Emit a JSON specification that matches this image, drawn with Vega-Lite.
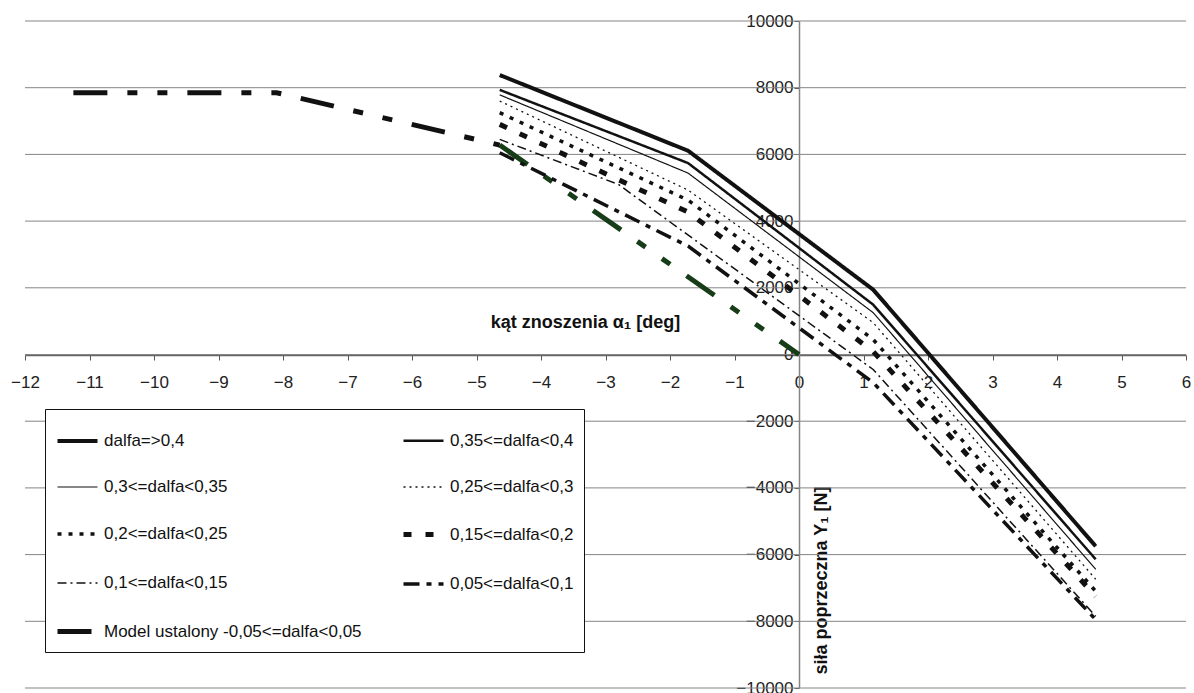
{
  "$schema": "https://vega.github.io/schema/vega-lite/v6.json",
  "width": 1161,
  "height": 667,
  "autosize": {"type": "none"},
  "padding": {"left": 25, "top": 21, "right": 8, "bottom": 5},
  "background": "white",
  "config": {
    "view": {"stroke": null},
    "font": "Liberation Sans",
    "axis": {"labelFont": "Liberation Sans", "titleFont": "Liberation Sans", "labelColor": "#222", "titleColor": "#111"}
  },
  "datasets": {
    "grid": [
      {"g": -10000}, {"g": -8000}, {"g": -6000}, {"g": -4000}, {"g": -2000},
      {"g": 0}, {"g": 2000}, {"g": 4000}, {"g": 6000}, {"g": 8000}, {"g": 10000}
    ],
    "series": [
      {"s": "dalfa=>0,4", "x": -4.64, "y": 8380},
      {"s": "dalfa=>0,4", "x": -1.72, "y": 6110},
      {"s": "dalfa=>0,4", "x": 1.15, "y": 1945},
      {"s": "dalfa=>0,4", "x": 4.6, "y": -5750},
      {"s": "0,35<=dalfa<0,4", "x": -4.64, "y": 7935},
      {"s": "0,35<=dalfa<0,4", "x": -1.72, "y": 5740},
      {"s": "0,35<=dalfa<0,4", "x": 1.15, "y": 1495},
      {"s": "0,35<=dalfa<0,4", "x": 4.6, "y": -6140},
      {"s": "0,3<=dalfa<0,35", "x": -4.64, "y": 7785},
      {"s": "0,3<=dalfa<0,35", "x": -1.72, "y": 5440},
      {"s": "0,3<=dalfa<0,35", "x": 1.15, "y": 1255},
      {"s": "0,3<=dalfa<0,35", "x": 4.6, "y": -6440},
      {"s": "0,25<=dalfa<0,3", "x": -4.64, "y": 7600},
      {"s": "0,25<=dalfa<0,3", "x": -1.72, "y": 4930},
      {"s": "0,25<=dalfa<0,3", "x": 1.15, "y": 955},
      {"s": "0,25<=dalfa<0,3", "x": 4.6, "y": -6740},
      {"s": "0,2<=dalfa<0,25", "x": -4.64, "y": 7250},
      {"s": "0,2<=dalfa<0,25", "x": -1.72, "y": 4630},
      {"s": "0,2<=dalfa<0,25", "x": 1.15, "y": 450},
      {"s": "0,2<=dalfa<0,25", "x": 4.6, "y": -7100},
      {"s": "0,15<=dalfa<0,2", "x": -4.64, "y": 6900},
      {"s": "0,15<=dalfa<0,2", "x": -1.72, "y": 4270},
      {"s": "0,15<=dalfa<0,2", "x": 1.15, "y": 90},
      {"s": "0,15<=dalfa<0,2", "x": 4.6, "y": -7250},
      {"s": "0,1<=dalfa<0,15", "x": -4.64, "y": 6450},
      {"s": "0,1<=dalfa<0,15", "x": -2.8, "y": 5100},
      {"s": "0,1<=dalfa<0,15", "x": 1.15, "y": -450},
      {"s": "0,1<=dalfa<0,15", "x": 4.6, "y": -7850},
      {"s": "0,05<=dalfa<0,1", "x": -4.64, "y": 6050},
      {"s": "0,05<=dalfa<0,1", "x": -1.72, "y": 3250},
      {"s": "0,05<=dalfa<0,1", "x": 1.15, "y": -840},
      {"s": "0,05<=dalfa<0,1", "x": 4.6, "y": -7950},
      {"s": "Model ustalony -0,05<=dalfa<0,05", "x": -11.25, "y": 7850},
      {"s": "Model ustalony -0,05<=dalfa<0,05", "x": -8.1, "y": 7850},
      {"s": "Model ustalony -0,05<=dalfa<0,05", "x": -4.64, "y": 6280}
    ],
    "green": [
      {"x": -4.64, "y": 6280},
      {"x": 0, "y": 0}
    ]
  },
  "layer": [
    {
      "data": {"name": "grid"},
      "mark": {"type": "rule", "color": "#858585", "strokeWidth": 1},
      "encoding": {
        "y": {"field": "g", "type": "quantitative", "scale": {"domain": [-10000, 10000], "nice": false, "zero": false},
          "axis": {
            "orient": "left", "offset": -774, "values": [-10000, -8000, -6000, -4000, -2000, 0, 2000, 4000, 6000, 8000, 10000],
            "grid": false, "domainColor": "#858585", "domainWidth": 1.5, "tickColor": "#555", "tickSize": 5,
            "labelFontSize": 17, "labelPadding": 1, "format": "d",
            "title": "siła poprzeczna Y₁ [N]", "titleFontSize": 18, "titleFontWeight": "bold",
            "titleAngle": -90, "titleX": 22, "titleY": 559, "titleAlign": "center", "titleBaseline": "middle"
          }
        }
      }
    },
    {
      "data": {"name": "green"},
      "mark": {"type": "line", "color": "#163d18", "strokeWidth": 5, "strokeDash": [34, 20, 10, 20, 10, 20], "strokeCap": "butt"},
      "encoding": {
        "x": {"field": "x", "type": "quantitative"},
        "y": {"field": "y", "type": "quantitative"}
      }
    },
    {
      "data": {"name": "series"},
      "mark": {"type": "line", "color": "#111", "strokeCap": "butt", "strokeJoin": "miter"},
      "encoding": {
        "x": {"field": "x", "type": "quantitative", "scale": {"domain": [-12, 6], "nice": false, "zero": false},
          "axis": {
            "orient": "bottom", "offset": -333, "values": [-12, -11, -10, -9, -8, -7, -6, -5, -4, -3, -2, -1, 0, 1, 2, 3, 4, 5, 6],
            "grid": false, "domainColor": "#666", "domainWidth": 1.5, "tickColor": "#555", "tickSize": 5,
            "labelFontSize": 17, "labelPadding": 14, "labelFlush": false, "format": "d",
            "title": "kąt znoszenia α₁ [deg]", "titleFontSize": 18, "titleFontWeight": "bold",
            "titleX": 560, "titleY": -33, "titleAlign": "center", "titleBaseline": "middle"
          }
        },
        "y": {"field": "y", "type": "quantitative", "scale": {"domain": [-10000, 10000], "nice": false, "zero": false}},
        "order": {"field": "x", "type": "quantitative"},
        "detail": {"field": "s"},
        "strokeDash": {
          "field": "s", "type": "nominal",
          "scale": {
            "domain": ["dalfa=>0,4", "0,35<=dalfa<0,4", "0,3<=dalfa<0,35", "0,25<=dalfa<0,3", "0,2<=dalfa<0,25", "0,15<=dalfa<0,2", "0,1<=dalfa<0,15", "0,05<=dalfa<0,1", "Model ustalony -0,05<=dalfa<0,05"],
            "range": [[1, 0], [1, 0], [1, 0], [2, 4], [4, 7], [8, 14], [9, 4, 2, 4], [16, 7, 5, 7], [34, 20, 10, 20, 10, 20]]
          },
          "legend": {
            "title": null, "orient": "none", "legendX": 20, "legendY": 388, "columns": 2, "direction": "horizontal",
            "columnPadding": 31,
            "rowPadding": 17, "padding": 10, "fillColor": "white", "strokeColor": "#111",
            "symbolType": "stroke", "symbolSize": 1600, "symbolStrokeColor": "#111",
            "labelFont": "Liberation Sans", "labelFontSize": 17, "labelColor": "#111", "labelOffset": 4, "labelLimit": 400
          }
        },
        "strokeWidth": {
          "field": "s", "type": "ordinal",
          "scale": {
            "type": "ordinal",
            "domain": ["dalfa=>0,4", "0,35<=dalfa<0,4", "0,3<=dalfa<0,35", "0,25<=dalfa<0,3", "0,2<=dalfa<0,25", "0,15<=dalfa<0,2", "0,1<=dalfa<0,15", "0,05<=dalfa<0,1", "Model ustalony -0,05<=dalfa<0,05"],
            "range": [4, 2.5, 1.2, 1.3, 3.5, 5, 1.5, 3.5, 5]
          }
        }
      }
    }
  ]
}
